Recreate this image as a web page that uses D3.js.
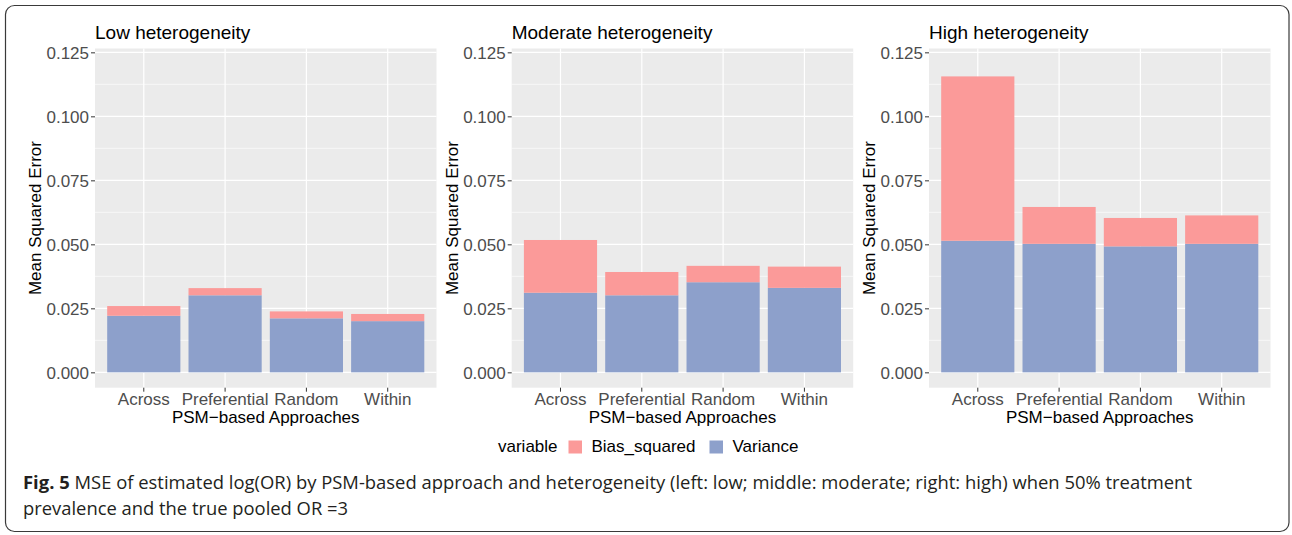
<!DOCTYPE html>
<html>
<head>
<meta charset="utf-8">
<script src="https://cdn.jsdelivr.net/npm/d3@7"></script>
<style>
  html, body { margin: 0; padding: 0; background: #fff; }
  svg { display: block; }
</style>
</head>
<body>
<svg id="chart" width="1292" height="535"></svg>
<script>
// ---------- data ----------
const categories = ["Across", "Preferential", "Random", "Within"];
const panelTitles = ["Low heterogeneity", "Moderate heterogeneity", "High heterogeneity"];
const seriesKeys = ["Variance", "Bias_squared"];
const legendLabels = ["Bias_squared", "Variance"];

const varianceLow  = [0.0221, 0.0301, 0.0211, 0.0200];
const biasLow      = [0.0038, 0.0028, 0.0027, 0.0028];
const varianceMod  = [0.0311, 0.0301, 0.0352, 0.0330];
const biasMod      = [0.0206, 0.0091, 0.0064, 0.0083];
const varianceHigh = [0.0514, 0.0502, 0.0492, 0.0502];
const biasHigh     = [0.0642, 0.0144, 0.0111, 0.0111];

const yTicks = [0, 0.025, 0.05, 0.075, 0.1, 0.125];
const yMinorTicks = [0.0125, 0.0375, 0.0625, 0.0875, 0.1125];

const xTitle = "PSM\u2212based Approaches";
const yTitle = "Mean Squared Error";
const captionBold = "Fig. 5";
const captionLine1 = " MSE of estimated log(OR) by PSM-based approach and heterogeneity (left: low; middle: moderate; right: high) when 50% treatment";
const captionLine2 = "prevalence and the true pooled OR =3";

// ---------- layout ----------
const colors = { Bias_squared: "#FB9A99", Variance: "#8DA0CB" };
const panelLefts = [95, 511.7, 929];
const panelWidth = 341.5;
const panelTop = 48.5, panelBottom = 387.7;
const font = "'Liberation Sans', Arial, Helvetica, sans-serif";

const svg = d3.select("#chart");

// figure frame
svg.append("rect")
  .attr("x", 5.5).attr("y", 5.5).attr("width", 1283.5).attr("height", 526)
  .attr("rx", 9).attr("ry", 9)
  .attr("fill", "none").attr("stroke", "#3a3a3a").attr("stroke-width", 1.2);

const y = d3.scaleLinear().domain([-0.006, 0.1265]).range([panelBottom, panelTop]);

const panelData = [
  [varianceLow, biasLow],
  [varianceMod, biasMod],
  [varianceHigh, biasHigh]
];

panelData.forEach((pd, i) => {
  const left = panelLefts[i];
  const x = d3.scaleBand().domain(categories)
    .range([left, left + panelWidth])
    .paddingInner(0.1).paddingOuter(0.15);

  const g = svg.append("g");

  // panel background
  g.append("rect")
    .attr("x", left).attr("y", panelTop)
    .attr("width", panelWidth).attr("height", panelBottom - panelTop)
    .attr("fill", "#EBEBEB");

  // minor grid
  g.selectAll(".minor").data(yMinorTicks).join("line")
    .attr("x1", left).attr("x2", left + panelWidth)
    .attr("y1", d => y(d)).attr("y2", d => y(d))
    .attr("stroke", "#fff").attr("stroke-width", 0.6);
  // major grid
  g.selectAll(".majorY").data(yTicks).join("line")
    .attr("x1", left).attr("x2", left + panelWidth)
    .attr("y1", d => y(d)).attr("y2", d => y(d))
    .attr("stroke", "#fff").attr("stroke-width", 1.2);
  g.selectAll(".majorX").data(categories).join("line")
    .attr("x1", d => x(d) + x.bandwidth() / 2).attr("x2", d => x(d) + x.bandwidth() / 2)
    .attr("y1", panelTop).attr("y2", panelBottom)
    .attr("stroke", "#fff").attr("stroke-width", 1.2);

  // stacked bars
  const rows = categories.map((c, j) => ({ cat: c, Variance: pd[0][j], Bias_squared: pd[1][j] }));
  const stacked = d3.stack().keys(seriesKeys)(rows);
  g.selectAll(".layer").data(stacked).join("g")
    .attr("fill", d => colors[d.key])
    .selectAll("rect").data(d => d).join("rect")
      .attr("x", d => x(d.data.cat))
      .attr("width", x.bandwidth())
      .attr("y", d => y(d[1]))
      .attr("height", d => y(d[0]) - y(d[1]));

  // y axis
  const yAxis = d3.axisLeft(y).tickValues(yTicks).tickFormat(d3.format(".3f"))
    .tickSize(4).tickPadding(2);
  const ya = svg.append("g").attr("transform", `translate(${left},0)`).call(yAxis);
  ya.select(".domain").remove();
  ya.selectAll(".tick line").attr("stroke", "#333").attr("stroke-width", 1);
  ya.selectAll(".tick text")
    .attr("font-family", font).attr("font-size", 17).attr("fill", "#4D4D4D")
    .attr("dy", "0.36em");

  // x axis
  const xAxis = d3.axisBottom(x).tickSize(4).tickPadding(2);
  const xa = svg.append("g").attr("transform", `translate(0,${panelBottom})`).call(xAxis);
  xa.select(".domain").remove();
  xa.selectAll(".tick line").attr("stroke", "#333").attr("stroke-width", 1);
  xa.selectAll(".tick text")
    .attr("font-family", font).attr("font-size", 17).attr("fill", "#4D4D4D")
    .attr("y", 405 - panelBottom).attr("dy", 0);

  // axis titles
  svg.append("text")
    .attr("x", left + panelWidth / 2).attr("y", 423)
    .attr("text-anchor", "middle")
    .attr("font-family", font).attr("font-size", 17).attr("fill", "#000")
    .text(xTitle);
  svg.append("text")
    .attr("transform", `translate(${left - 54},${(panelTop + panelBottom) / 2}) rotate(-90)`)
    .attr("text-anchor", "middle")
    .attr("font-family", font).attr("font-size", 17).attr("fill", "#000")
    .text(yTitle);

  // panel title
  svg.append("text")
    .attr("x", left).attr("y", 39)
    .attr("font-family", font).attr("font-size", 19).attr("fill", "#000")
    .text(panelTitles[i]);
});

// legend
const lg = svg.append("g");
lg.append("text").attr("x", 498).attr("y", 451.5)
  .attr("font-family", font).attr("font-size", 17).attr("fill", "#000")
  .text("variable");
const legendX = [568.5, 709.5];
legendLabels.forEach((k, i) => {
  lg.append("rect").attr("x", legendX[i]).attr("y", 440.5)
    .attr("width", 13.5).attr("height", 13)
    .attr("fill", colors[k]);
  lg.append("text").attr("x", legendX[i] + 23).attr("y", 451.5)
    .attr("font-family", font).attr("font-size", 17).attr("fill", "#000")
    .text(k);
});

// caption
const capFont = "'Open Sans', 'Noto Sans', sans-serif";
const c1 = svg.append("text").attr("x", 23).attr("y", 489)
  .attr("font-family", capFont).attr("font-size", 18.5).attr("fill", "#231F20")
  .attr("textLength", 1169).attr("lengthAdjust", "spacingAndGlyphs");
c1.append("tspan").attr("font-weight", "bold").text(captionBold);
c1.append("tspan").text(captionLine1);
svg.append("text").attr("x", 23).attr("y", 515)
  .attr("font-family", capFont).attr("font-size", 18.5).attr("fill", "#231F20")
  .attr("textLength", 325).attr("lengthAdjust", "spacingAndGlyphs")
  .text(captionLine2);
</script>
</body>
</html>
